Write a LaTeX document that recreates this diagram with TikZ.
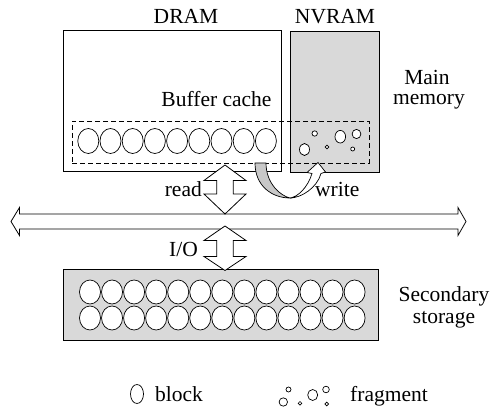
\documentclass[tikz,border=0pt]{standalone}
\usepackage{fontspec}
\setmainfont{Liberation Serif}
\begin{document}
\begin{tikzpicture}[x=1pt,y=-1pt,
  lbl/.style={font=\fontsize{21.5}{23}\selectfont, inner sep=0pt, anchor=base},
  box/.style={draw=black, line width=0.8pt},
  gbox/.style={box, fill=boxgray},
  blk/.style={draw=black, line width=0.7pt, fill=white},
  hollow/.style={draw=black, line width=0.8pt, fill=white, line join=miter}
]
\definecolor{boxgray}{HTML}{D9D9D9}
\definecolor{shade}{HTML}{C8C8C8}
\useasboundingbox (0,0) rectangle (491,417);

% Boxes
\node[box, minimum width=218pt, minimum height=141pt, inner sep=0pt] (dram) at (172,100.5) {};
\node[gbox, minimum width=89pt, minimum height=141pt, inner sep=0pt] (nvram) at (334.5,101.5) {};
\node[draw=black, line width=0.7pt, dash pattern=on 5pt off 3pt, minimum width=297pt, minimum height=42pt, inner sep=0pt] (cache) at (220.5,142) {};
\node[gbox, minimum width=315pt, minimum height=71pt, inner sep=0pt] (storage) at (220.5,304.5) {};

% Labels
\node[lbl] (tdram) at (186,24) {DRAM};
\node[lbl] (tnvram) at (335,24) {NVRAM};
\node[lbl] (tbuf) at (216.5,107) {Buffer cache};
\node[lbl] (tmain) at (427,85) {Main};
\node[lbl] (tmem) at (429,105) {memory};
\node[lbl] (tsec) at (444,302) {Secondary};
\node[lbl] (tsto) at (444,324) {storage};
\node[lbl, anchor=base east] (tread) at (202,197) {read};
\node[lbl, anchor=base west] (twrite) at (315,197) {write};
\node[lbl, anchor=base east] (tio) at (198,257) {I/O};
\node[lbl, anchor=base west] (tblock) at (155,402) {block};
\node[lbl, anchor=base west] (tfrag) at (350,402) {fragment};

% Blocks in buffer cache
\foreach \i in {0,...,8} {
  \draw[blk] ({88.3+22.2*\i},141) ellipse [x radius=10.5, y radius=12.5];
}
% Fragments in NVRAM
\draw[blk] (304.5,149.5) ellipse [x radius=5, y radius=6];
\draw[blk] (314.7,133.5) circle [radius=2.7];
\draw[blk] (327,147) circle [radius=1.8];
\draw[blk] (340.3,136.7) ellipse [x radius=5.3, y radius=6.3];
\draw[blk] (356.5,134) ellipse [x radius=4.4, y radius=4.6];
\draw[blk] (352.7,149) circle [radius=2];

% Blocks in secondary storage
\foreach \r in {292,318} {
  \foreach \i in {0,...,12} {
    \draw[blk] ({90+22.05*\i},\r) ellipse [x radius=10.5, y radius=12];
  }
}

% Bus (double-headed hollow arrow)
\coordinate (busL) at (11,221.5);
\coordinate (busR) at (466,221.5);
\draw[hollow] (busL) -- (19.5,207.5) -- (19.5,214) -- (458,214) -- (458,207.5) -- (busR)
  -- (458,235.5) -- (458,229) -- (19.5,229) -- (19.5,235.5) -- cycle;

% read arrow
\coordinate (rtop) at (225,165);
\coordinate (rbot) at (225,214);
\draw[hollow] (rtop) -- (246,180.5) -- (233.3,180.5) -- (233.3,194) -- (246,194) -- (rbot)
  -- (204,194) -- (216.7,194) -- (216.7,180.5) -- (204,180.5) -- cycle;

% I/O arrow
\coordinate (itop) at (225,226);
\coordinate (ibot) at (225,270.5);
\draw[hollow] (itop) -- (246,240.5) -- (233.3,240.5) -- (233.3,256.5) -- (246,256.5) -- (ibot)
  -- (204,256.5) -- (216.7,256.5) -- (216.7,240.5) -- (204,240.5) -- cycle;

% write arrow (curved)
\coordinate (wbot) at (290,198);
\coordinate (wtip) at (318,162.5);
\draw[draw=black, line width=0.7pt, fill=shade] (255,163) .. controls (255,186) and (272,198) .. (wbot)
  .. controls (281,196) and (266,184) .. (266,163) -- cycle;
\draw[draw=black, line width=0.7pt, fill=white, line join=miter] (wbot)
  .. controls (301,198) and (317,188) .. (321,173.5) -- (325.5,172) -- (wtip) -- (307,172.5) -- (312,173.5)
  .. controls (308,187) and (298,197) .. (wbot) -- cycle;

% Legend
\draw[blk] (137,394) ellipse [x radius=6.5, y radius=9.5];
\draw[blk] (288.5,389.5) circle [radius=2.5];
\draw[blk] (283.3,402) circle [radius=4.2];
\draw[blk] (300,403.3) circle [radius=1.8];
\draw[blk] (312.7,395) ellipse [x radius=5, y radius=5.5];
\draw[blk] (326,389.5) circle [radius=3.3];
\draw[blk] (326.7,404) circle [radius=1.9];
\end{tikzpicture}
\end{document}
